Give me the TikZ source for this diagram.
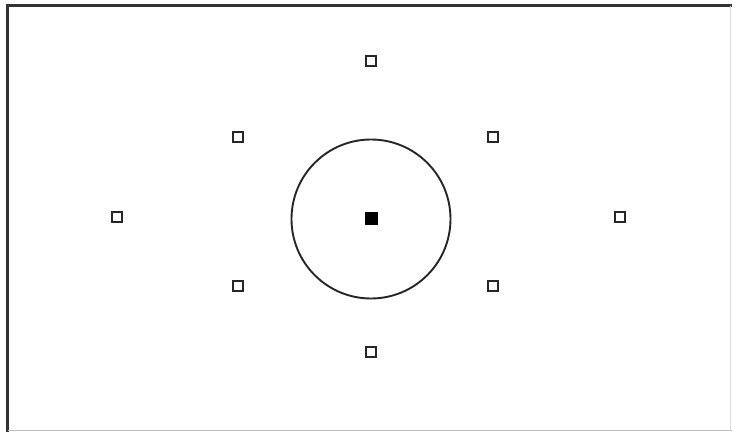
\documentclass[tikz,border=0pt]{standalone}
\begin{document}
\begin{tikzpicture}[x=1pt,y=-1pt,
  pt/.style={draw=black!85,line width=2pt,minimum size=10pt,inner sep=0pt,fill=white},
  ctr/.style={fill=black,minimum size=13pt,inner sep=0pt},
  ring/.style={circle,draw=black!85,line width=1.9pt,minimum size=159pt,inner sep=0pt}]
\useasboundingbox (0,0) rectangle (732,432);
\fill[white] (0,0) rectangle (732,432);
\draw[black!80,line width=2.5pt] (7.5,432) -- (7.5,5.5) -- (732,5.5);
\draw[black!25,line width=1pt] (7.5,430.5) -- (732,430.5);
\draw[black!15,line width=1pt] (730.5,5.5) -- (730.5,430.5);
\node[ring] (ring) at (371,219) {};
\node[ctr] (c) at (371,218) {};
\node[pt] (t) at (371,61) {};
\node[pt] (ul) at (238,137) {};
\node[pt] (ur) at (493,137) {};
\node[pt] (l) at (117,217) {};
\node[pt] (r) at (620,217) {};
\node[pt] (ll) at (238,286) {};
\node[pt] (lr) at (493,286) {};
\node[pt] (b) at (371,352) {};
\end{tikzpicture}
\end{document}
